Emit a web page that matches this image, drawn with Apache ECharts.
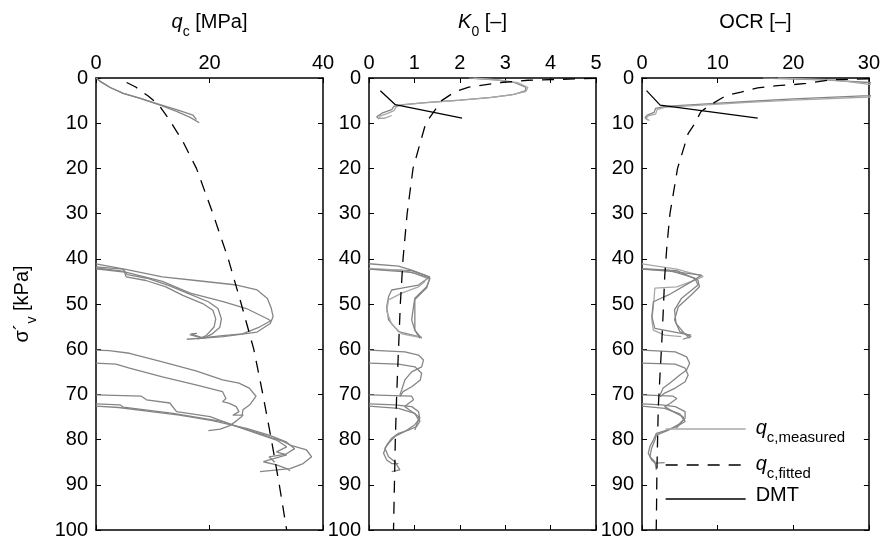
<!DOCTYPE html>
<html>
<head>
<meta charset="utf-8">
<script src="https://cdn.jsdelivr.net/npm/echarts@6/dist/echarts.min.js"></script>
<style>
  html, body { margin: 0; padding: 0; background: #fff; }
  #chart { width: 883px; height: 543px; }
</style>
</head>
<body>
<div id="chart"></div>
<script>
// qc [MPa] profiles, pairs of [qc, sigma'v]
var qcTopA = [[0,0],[0.8,0.8],[2.5,2.1],[4.8,3.4],[7.8,4.5],[11.3,6.0],[14.2,7.4],[16.6,8.7],[18.2,9.9]];
var qcTopB = [[0,0],[0.8,0.8],[2.5,2.1],[4.8,3.4],[7.8,4.5],[11.3,5.9],[14.2,7.0],[17.1,8.2],[17.7,9.2]];
var qc40A = [[0,41.1],[5.0,42.3],[11.7,44.0],[17.6,44.8],[24.8,45.8],[28.4,46.9],[30.2,48.8],[30.9,51.0],[31.2,52.8],[30.7,54.3],[28.4,56.2],[22.4,57.2],[16.0,57.8]];
var qc40B = [[0,42.2],[5.4,43.0],[11.7,45.0],[16.6,47.6],[22.4,49.5],[26.5,51.0],[30.1,53.2],[30.8,53.7],[28.8,55.1],[25.8,56.6],[22.3,57.0],[18.8,57.5],[16.7,56.6],[17.8,56.5]];
var qc40C = [[0,42.0],[5.0,42.8],[5.3,44.0],[8.8,44.8],[12.3,46.2],[15.3,48.1],[18.8,49.9],[20.6,51.4],[21.1,53.3],[20.8,55.1],[19.4,57.0],[17.9,57.8]];
var qc40D = [[0,41.8],[4.8,42.3],[5.5,43.5],[9.0,44.3],[13.0,46.0],[16.5,47.8],[19.8,49.5],[21.5,51.0],[22.1,53.3],[21.8,55.2],[20.5,56.6],[18.9,57.6],[16.5,56.8]];
var qc60A = [[0,60.2],[2.3,60.3],[5.9,60.9],[11.7,62.8],[17.6,64.8],[22.3,66.8],[25.2,67.5],[27.0,68.6],[28.2,70.4],[27.1,72.3],[25.9,73.4],[25.7,74.9],[24.8,75.8],[23.6,76.9],[21.9,77.7],[19.8,78.0]];
var qc60B = [[0,63.1],[3.5,63.3],[5.9,64.2],[11.7,66.1],[17.6,67.9],[22.3,69.4],[22.9,70.9],[22.3,71.6],[23.5,72.0],[24.7,72.7],[25.2,73.8],[24.1,74.6],[26.0,74.6]];
var qc70A = [[0,70.1],[8.0,70.4],[8.9,71.2],[13.0,71.9],[14.2,73.8],[20.1,74.9],[24.8,77.1],[29.5,78.9],[31.2,79.7],[33.0,80.4],[34.2,81.2],[37.1,82.3],[38.0,83.8],[36.5,85.3],[34.2,86.4],[28.9,87.1]];
var qc70B = [[0,72.1],[4.2,72.3],[4.8,72.8],[13.6,74.2],[22.4,76.0],[28.3,78.6],[31.8,80.1],[33.6,81.6],[31.8,82.7],[33.6,83.4],[29.5,84.9],[31.8,85.6],[33.6,86.4],[34.2,86.9]];
var qc70C = [[0,72.6],[4.0,72.9],[14.7,74.6],[20.5,75.8],[26.5,77.5],[30.5,79.0],[33.5,80.5],[35.0,82.0],[33.5,83.2],[30.5,83.8],[31.5,85.0]];
var qcFitDepth = [1, 2, 4, 6, 9, 14, 20, 30, 40, 50, 60, 70, 80, 90, 100];
var qcFitValue = [5.4, 7.0, 9.2, 11.1, 12.8, 15.3, 17.7, 20.6, 23.3, 25.6, 27.8, 29.4, 30.9, 32.3, 33.6];

// K0 [-] profiles
var k0TopA = [[2.2,0],[2.8,0.4],[3.2,1.0],[3.45,2.0],[3.45,2.8],[3.2,3.6],[2.7,4.3],[2.0,4.9],[1.3,5.4],[0.75,5.9],[0.55,6.3],[0.5,7.0],[0.3,7.7],[0.17,8.6],[0.22,9.1]];
var k0TopB = [[2.3,0],[2.9,0.5],[3.3,1.1],[3.5,2.1],[3.45,3.0],[3.1,3.8],[2.6,4.4],[1.9,5.0],[1.2,5.5],[0.7,6.0],[0.6,6.4],[0.55,7.2],[0.4,7.9],[0.25,8.4],[0.22,8.9],[0.35,8.9],[0.5,8.3]];
var k040A = [[0,41.1],[0.65,41.6],[0.94,42.5],[1.23,43.6],[1.34,44.3],[1.27,46.2],[1.01,48.7],[0.98,50.6],[0.94,53.5],[1.01,55.8],[1.16,57.6]];
var k040B = [[0,42.3],[0.94,42.6],[1.34,44.0],[1.09,45.8],[0.72,46.5],[0.5,46.9],[0.43,48.4],[0.39,50.6],[0.43,53.5],[0.65,56.1],[1.16,57.4]];
var k040C = [[0,42.1],[0.72,42.5],[1.0,43.2],[1.27,44.3],[1.23,45.0],[1.09,46.2],[0.72,47.6],[0.43,49.1],[0.39,51.6],[0.5,54.5],[0.72,56.6],[1.09,57.3]];
var k040D = [[0,42.3],[0.94,43.0],[1.34,44.3],[1.27,46.4],[1.01,49.0],[1.01,55.8],[1.12,57.6]];
var k060A = [[0,60.2],[0.79,60.6],[1.09,61.3],[1.2,62.4],[1.16,63.9],[0.94,65.0],[0.79,66.8],[0.72,69.0],[0.68,70.1]];
var k060B = [[0,63.1],[0.65,63.3],[1.01,63.9],[1.16,65.3],[1.13,66.8],[0.94,68.3],[0.75,69.4],[0.68,70.5]];
var k070A = [[0,70.1],[0.94,70.4],[0.98,71.2],[0.87,72.0],[0.79,72.7],[0.9,73.5],[1.09,74.9],[1.12,76.0],[1.05,77.1],[0.87,77.9],[0.65,78.6],[0.5,79.7],[0.39,81.2],[0.32,83.0],[0.39,84.5],[0.5,85.3],[0.65,85.3]];
var k070B = [[0,72.1],[0.57,72.3],[0.94,72.7],[1.09,73.8],[1.12,75.3],[1.01,76.7],[0.79,78.2],[0.57,79.3],[0.46,80.5],[0.35,81.9],[0.43,83.8],[0.57,84.9],[0.68,86.7],[0.5,87.1]];
var k070C = [[0,72.6],[0.65,73.1],[1.01,74.2],[1.09,75.6],[1.01,77.9]];
var k0FitDepth = [0.1, 0.15, 0.3, 0.5, 1, 2, 3, 5, 10, 20, 30, 40, 50, 60, 70, 80, 90, 100];
var k0FitValue = [5.0, 4.7, 4.2, 3.5, 2.9, 2.2, 1.9, 1.6, 1.25, 0.97, 0.84, 0.75, 0.69, 0.65, 0.61, 0.58, 0.56, 0.54];
var k0Dmt = [[0.25,2.8],[0.58,5.9],[2.05,8.9]];

// OCR [-] profiles
var ocrTopA = [[16,0],[24,0.4],[30,1.0],[45,2.5],[30,3.9],[20,4.6],[14,5.2],[8,5.8],[3,6.3],[1.8,6.7],[1.6,7.6],[0.7,8.2],[0.4,8.8],[0.8,9.3]];
var ocrTopB = [[18,0],[26,0.5],[30,1.4],[45,2.8],[30,4.2],[20,4.9],[14,5.4],[8,6.0],[3,6.5],[2,7.0],[1.8,8.0],[0.8,8.4],[0.5,9.0],[1.0,9.4]];
var ocr40A = [[0,41.1],[4.6,42.3],[8.1,43.9],[7.0,44.7],[4.6,46.2],[1.7,46.5],[1.5,50.6],[1.3,53.5],[1.5,55.8],[3.0,56.9],[5.2,57.2]];
var ocr40B = [[0,42.3],[4.6,42.6],[7.4,44.7],[7.6,46.2],[6.5,48.0],[4.8,50.6],[4.3,53.5],[5.0,56.1],[6.5,57.2],[5.4,57.8]];
var ocr40C = [[0,42.3],[3.9,42.8],[7.9,43.6],[6.5,45.1],[3.5,48.0],[1.5,49.5],[1.3,52.8],[1.7,55.4],[5.2,56.5],[6.5,56.9]];
var ocr40D = [[0,42.2],[3.5,42.5],[7.0,44.3],[7.4,45.8],[5.2,48.8],[4.3,51.3],[4.5,54.3],[5.6,56.5],[6.3,57.6]];
var ocr60A = [[0,60.2],[4.4,60.6],[5.9,61.7],[6.3,63.1],[5.9,64.6],[5.0,65.7],[3.7,67.5],[2.8,68.6],[2.4,70.1]];
var ocr60B = [[0,63.1],[4.4,63.3],[5.7,64.2],[6.1,65.7],[5.7,67.2],[4.4,68.6],[3.0,69.7],[2.4,70.5]];
var ocr70A = [[0,70.1],[4.1,70.4],[4.6,70.9],[3.7,72.0],[3.0,72.7],[4.1,73.8],[5.4,74.9],[5.7,76.0],[4.6,77.1],[3.3,77.9],[1.9,78.6],[1.5,80.1],[1.05,81.5],[0.83,83.0],[1.27,84.5],[1.7,85.2],[3.0,85.1]];
var ocr70B = [[0,72.1],[2.6,72.3],[4.4,72.7],[5.7,73.8],[5.7,75.3],[4.8,76.7],[3.5,77.9],[1.9,79.0],[1.7,80.1],[1.27,81.9],[1.05,83.8],[1.7,84.9],[1.9,86.7]];
var ocr70C = [[0,72.6],[3.0,73.1],[5.0,74.3],[5.5,75.6],[4.5,77.5]];
var ocrFitDepth = [0.2, 0.4, 1.2, 1.5, 1.7, 2.2, 3.1, 3.9, 5.6, 7.4, 10, 12.3, 20, 30, 37, 44, 52, 59, 66, 73, 80, 87, 94, 100];
var ocrFitValue = [30, 25, 21.7, 19.7, 17.9, 15.3, 13.1, 11.1, 9.4, 7.8, 7.0, 6.1, 4.7, 3.7, 3.3, 3.0, 2.8, 2.6, 2.37, 2.15, 2.06, 1.97, 1.93, 1.88];
var ocrDmt = [[0.6,2.8],[2.4,6.0],[15.3,8.9]];

// axis ranges per panel
var xMax = [40, 5, 30];
var xStep = [20, 1, 10];
var gridLeft = [96, 369, 642];

var FONT = 'Liberation Sans, Arial, sans-serif';
var GRAY = '#858585';
var LIGHT = '#a8a8a8';

var rich = {
  i: { fontFamily: FONT, fontSize: 20, fontStyle: 'italic', color: '#000', lineHeight: 22, verticalAlign: 'top' },
  n: { fontFamily: FONT, fontSize: 20, color: '#000', lineHeight: 22, verticalAlign: 'top' },
  s: { fontFamily: FONT, fontSize: 14, color: '#000', lineHeight: 14, padding: [13, 0, 0, 0], verticalAlign: 'top' },
  ls: { fontFamily: FONT, fontSize: 15, color: '#000', lineHeight: 15, padding: [12, 0, 0, 0], verticalAlign: 'top' },
  li: { fontFamily: FONT, fontSize: 20, fontStyle: 'italic', color: '#000', lineHeight: 22, padding: [0, 0, 0, 5], verticalAlign: 'top' },
  ln: { fontFamily: FONT, fontSize: 20, color: '#000', lineHeight: 28, padding: [0, 0, 0, 5], verticalAlign: 'top' }
};

var titles = [
  '{i|q}{s|c}{n| [MPa]}',
  '{i|K}{s|0}{n| [–]}',
  '{n|OCR [–]}'
];

function pairs(depth, value) {
  return depth.map(function (d, k) { return [value[k], d]; });
}

function curve(name, data, panel, color, dash) {
  return {
    name: name,
    type: 'line',
    xAxisIndex: panel * 2,
    yAxisIndex: panel * 2,
    data: data,
    symbol: 'none',
    silent: true,
    animation: false,
    itemStyle: { color: color },
    lineStyle: { color: color, width: 1.3, type: dash ? [12, 9] : 'solid' }
  };
}

var grids = [], xAxes = [], yAxes = [];
for (var p = 0; p < 3; p++) {
  grids.push({ left: gridLeft[p], top: 78, width: p == 2 ? 228 : 227, height: 452 });
  xAxes.push({
    type: 'value', gridIndex: p, position: 'top', min: 0, max: xMax[p], interval: xStep[p],
    name: titles[p], nameLocation: 'middle', nameGap: 44,
    nameTextStyle: { rich: rich },
    axisLine: { onZero: false, lineStyle: { color: '#000', width: 1.5 } },
    axisTick: { inside: true, length: 5, lineStyle: { color: '#000' } },
    axisLabel: { margin: 5, color: '#000', fontSize: 20, fontFamily: FONT, showMinLabel: true, showMaxLabel: true },
    splitLine: { show: false }
  });
  xAxes.push({
    type: 'value', gridIndex: p, position: 'bottom', min: 0, max: xMax[p], interval: xStep[p],
    axisLine: { onZero: false, lineStyle: { color: '#000', width: 1.5 } },
    axisTick: { inside: true, length: 5, lineStyle: { color: '#000' } },
    axisLabel: { show: false },
    splitLine: { show: false }
  });
  yAxes.push({
    type: 'value', gridIndex: p, position: 'left', inverse: true, min: 0, max: 100, interval: 10,
    name: p == 0 ? '{n|σ´}{s|v}{n| [kPa]}' : '',
    nameLocation: 'middle', nameRotate: 90, nameGap: 62,
    nameTextStyle: { rich: rich },
    axisLine: { onZero: false, lineStyle: { color: '#000', width: 1.5 } },
    axisTick: { inside: true, length: 5, lineStyle: { color: '#000' } },
    axisLabel: { margin: 8, color: '#000', fontSize: 20, fontFamily: FONT, showMinLabel: true, showMaxLabel: true },
    splitLine: { show: false }
  });
  yAxes.push({
    type: 'value', gridIndex: p, position: 'right', inverse: true, min: 0, max: 100, interval: 10,
    axisLine: { onZero: false, lineStyle: { color: '#000', width: 1.5 } },
    axisTick: { inside: true, length: 5, lineStyle: { color: '#000' } },
    axisLabel: { show: false },
    splitLine: { show: false }
  });
}

var M = 'qc,measured', F = 'qc,fitted', D = 'DMT';
var series = [
  // panel 1
  curve(M, qcTopA, 0, GRAY), curve(M, qcTopB, 0, GRAY),
  curve(M, qc40A, 0, GRAY), curve(M, qc40B, 0, GRAY), curve(M, qc40C, 0, GRAY), curve(M, qc40D, 0, GRAY),
  curve(M, qc60A, 0, GRAY), curve(M, qc60B, 0, GRAY),
  curve(M, qc70A, 0, GRAY), curve(M, qc70B, 0, GRAY), curve(M, qc70C, 0, GRAY),
  curve(F, pairs(qcFitDepth, qcFitValue), 0, '#000', true),
  // panel 2
  curve(M, k0TopA, 1, GRAY), curve(M, k0TopB, 1, LIGHT),
  curve(M, k040A, 1, GRAY), curve(M, k040B, 1, GRAY), curve(M, k040C, 1, LIGHT), curve(M, k040D, 1, GRAY),
  curve(M, k060A, 1, GRAY), curve(M, k060B, 1, GRAY),
  curve(M, k070A, 1, GRAY), curve(M, k070B, 1, GRAY), curve(M, k070C, 1, GRAY),
  curve(F, pairs(k0FitDepth, k0FitValue), 1, '#000', true),
  curve(D, k0Dmt, 1, '#000'),
  // panel 3
  curve(M, ocrTopA, 2, GRAY), curve(M, ocrTopB, 2, LIGHT),
  curve(M, ocr40A, 2, LIGHT), curve(M, ocr40B, 2, GRAY), curve(M, ocr40C, 2, GRAY), curve(M, ocr40D, 2, GRAY),
  curve(M, ocr60A, 2, GRAY), curve(M, ocr60B, 2, GRAY),
  curve(M, ocr70A, 2, GRAY), curve(M, ocr70B, 2, GRAY), curve(M, ocr70C, 2, GRAY),
  curve(F, pairs(ocrFitDepth, ocrFitValue), 2, '#000', true),
  curve(D, ocrDmt, 2, '#000')
];

// one legend per entry so each row sits where the reference has it
function legendFor(name, top, lineStyle, text) {
  return {
    left: 665, top: top, padding: 0, orient: 'vertical',
    itemWidth: 80, itemHeight: 14, selectedMode: false,
    data: [{ name: name, lineStyle: lineStyle, itemStyle: { opacity: 0, borderWidth: 0 } }],
    formatter: function () { return text; },
    textStyle: { rich: rich }
  };
}

var chart = echarts.init(document.getElementById('chart'), null, { renderer: 'canvas' });
chart.setOption({
  backgroundColor: '#fff',
  animation: false,
  grid: grids,
  xAxis: xAxes,
  yAxis: yAxes,
  legend: [
    legendFor(M, 418, { color: LIGHT, width: 1.3 }, '{li|q}{ls|c,measured}'),
    legendFor(F, 454, { color: '#000', width: 1.3, type: [12, 9] }, '{li|q}{ls|c,fitted}'),
    legendFor(D, 485, { color: '#000', width: 1.3 }, '{ln|DMT}')
  ],
  series: series
});
</script>
</body>
</html>
